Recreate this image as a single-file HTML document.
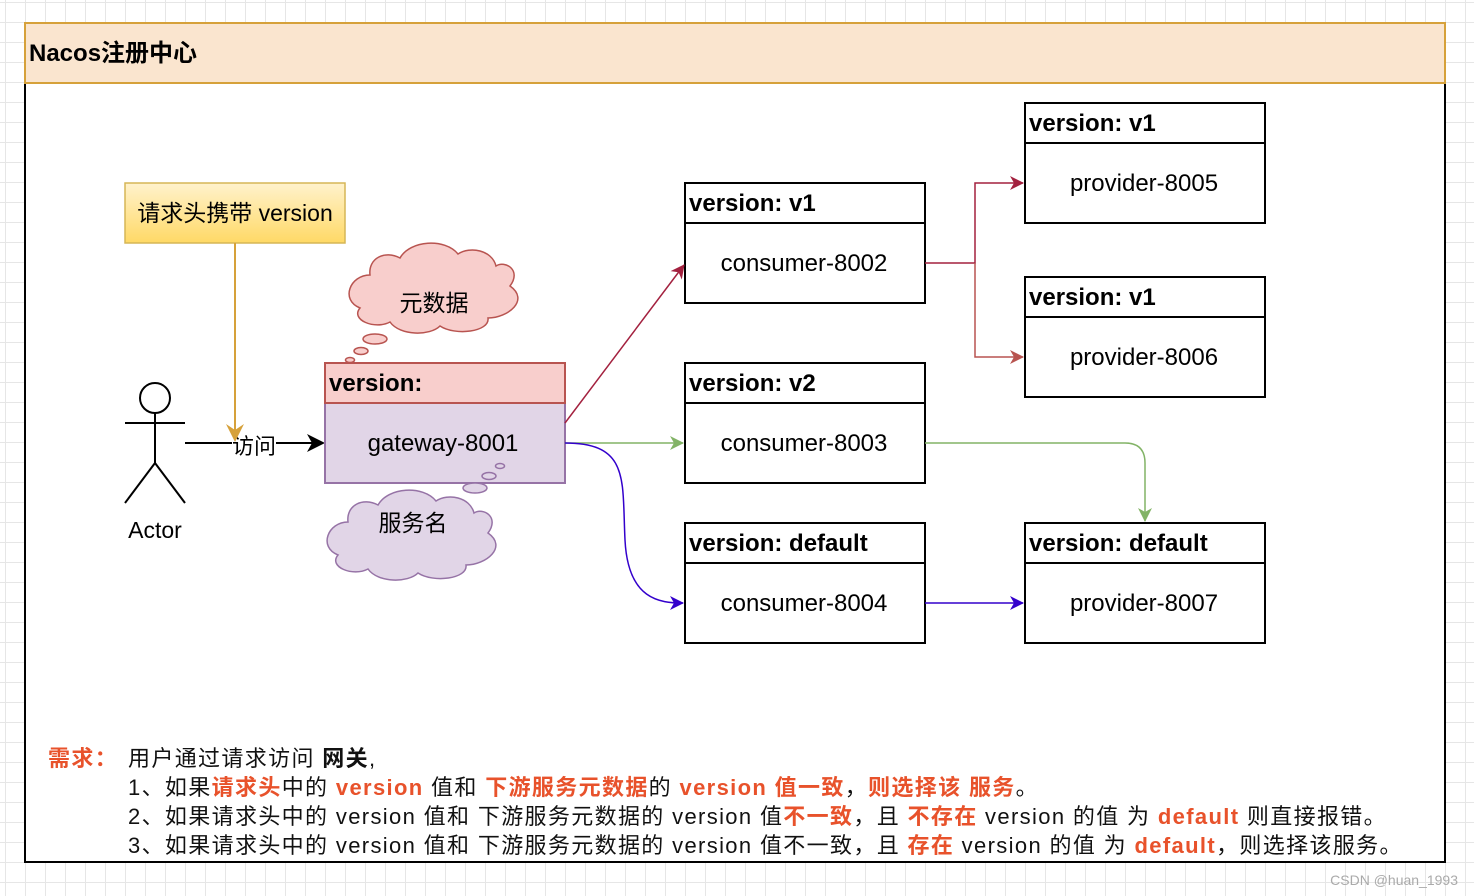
<!DOCTYPE html>
<html><head><meta charset="utf-8"><style>
html,body{margin:0;padding:0;}
body{width:1474px;height:896px;overflow:hidden;background-color:#fff;
background-image:linear-gradient(#e6e6e6 1px,transparent 1px),linear-gradient(90deg,#e6e6e6 1px,transparent 1px);
background-size:20px 20px;background-position:5px 2px;font-family:"Liberation Sans","Noto Sans CJK SC",sans-serif;position:relative;}
svg{position:absolute;left:0;top:0;}
.t{position:absolute;white-space:nowrap;font-size:22px;color:#111;line-height:29px;letter-spacing:1.35px;}
.r{color:#e8522b;font-weight:bold;}
</style></head><body>
<svg width="1474" height="896" viewBox="0 0 1474 896" font-family="Liberation Sans, Noto Sans CJK SC, sans-serif">
<defs>
<marker id="ar" markerWidth="14" markerHeight="14" refX="13" refY="7" orient="auto" markerUnits="userSpaceOnUse"><path d="M0,0 L14,7 L0,14 L4,7z" fill="#a3213f"/></marker>
<marker id="ar2" markerWidth="14" markerHeight="14" refX="13" refY="7" orient="auto" markerUnits="userSpaceOnUse"><path d="M0,0 L14,7 L0,14 L4,7z" fill="#b85450"/></marker>
<marker id="ag" markerWidth="14" markerHeight="14" refX="13" refY="7" orient="auto" markerUnits="userSpaceOnUse"><path d="M0,0 L14,7 L0,14 L4,7z" fill="#82b366"/></marker>
<marker id="ab" markerWidth="14" markerHeight="14" refX="13" refY="7" orient="auto" markerUnits="userSpaceOnUse"><path d="M0,0 L14,7 L0,14 L4,7z" fill="#3300cc"/></marker>
<linearGradient id="gy" x1="0" y1="0" x2="0" y2="1"><stop offset="0" stop-color="#fff2cc"/><stop offset="1" stop-color="#ffd966"/></linearGradient>
</defs>
<rect x="25" y="23" width="1420" height="839" fill="#fff" stroke="#000" stroke-width="2"/>
<rect x="25" y="23" width="1420" height="60" fill="#fae5cf" stroke="#d6a13a" stroke-width="2"/>
<text x="29" y="61" font-size="24" font-weight="bold">Nacos注册中心</text>

<rect x="125" y="183" width="220" height="60" fill="url(#gy)" stroke="#d6b656" stroke-width="1.5"/>
<text x="235" y="221" font-size="23" text-anchor="middle">请求头携带 version</text>
<line x1="235" y1="243" x2="235" y2="436" stroke="#d6a13a" stroke-width="2"/>

<g stroke="#000" stroke-width="2" fill="none">
<circle cx="155" cy="398" r="15" fill="#fff"/>
<line x1="155" y1="413" x2="155" y2="463"/><line x1="125" y1="423" x2="185" y2="423"/>
<line x1="155" y1="463" x2="125" y2="503"/><line x1="155" y1="463" x2="185" y2="503"/>
</g>
<text x="155" y="538" font-size="23" text-anchor="middle">Actor</text>
<line x1="185" y1="443" x2="312" y2="443" stroke="#000" stroke-width="2"/>
<path d="M325,443 L307,434 L312,443 L307,452Z" fill="#000"/>
<rect x="232" y="432" width="44" height="24" fill="#fff"/>
<text x="254" y="454" font-size="22" text-anchor="middle">访问</text>
<path d="M235,442 L226,424 L235,430 L244,424Z" fill="#d6a13a"/>

<rect x="325" y="403" width="240" height="80" fill="#e1d5e7" stroke="#9673a6" stroke-width="2"/>
<rect x="325" y="363" width="240" height="40" fill="#f8cecc" stroke="#b85450" stroke-width="2"/>
<text x="329" y="391" font-size="24" font-weight="bold">version:</text>
<text x="443" y="451" font-size="24" text-anchor="middle">gateway-8001</text>

<g fill="#f8cecc" stroke="#b85450" stroke-width="1.5">
<path d="M370,275 C350,275 340,300 360,308 C350,320 375,330 390,322 C400,336 430,336 440,326 C455,336 490,332 488,318 C508,318 530,300 510,286 C522,270 505,260 496,266 C492,250 470,246 458,254 C445,238 410,240 400,258 C385,250 368,258 370,275Z"/>
<ellipse cx="375" cy="339" rx="12" ry="5"/>
<ellipse cx="361" cy="351" rx="7" ry="3.5"/>
<ellipse cx="350" cy="360" rx="4.5" ry="2.5"/>
</g>
<text x="434" y="311" font-size="23" text-anchor="middle">元数据</text>
<g fill="#e1d5e7" stroke="#9673a6" stroke-width="1.5">
<path d="M348,522 C328,522 318,547 338,555 C328,567 353,577 368,569 C378,583 408,583 418,573 C433,583 468,579 466,565 C486,565 508,547 488,533 C500,517 483,507 474,513 C470,497 448,493 436,501 C423,485 388,487 378,505 C363,497 346,505 348,522Z"/>
<ellipse cx="475" cy="488" rx="12" ry="5"/>
<ellipse cx="489" cy="476" rx="7" ry="3.5"/>
<ellipse cx="500" cy="466" rx="4.5" ry="2.5"/>
</g>
<text x="413" y="531" font-size="23" text-anchor="middle">服务名</text>

<g stroke="#000" stroke-width="2" fill="#fff">
<rect x="685" y="183" width="240" height="120"/><line x1="685" y1="223" x2="925" y2="223"/>
<rect x="685" y="363" width="240" height="120"/><line x1="685" y1="403" x2="925" y2="403"/>
<rect x="685" y="523" width="240" height="120"/><line x1="685" y1="563" x2="925" y2="563"/>
<rect x="1025" y="103" width="240" height="120"/><line x1="1025" y1="143" x2="1265" y2="143"/>
<rect x="1025" y="277" width="240" height="120"/><line x1="1025" y1="317" x2="1265" y2="317"/>
<rect x="1025" y="523" width="240" height="120"/><line x1="1025" y1="563" x2="1265" y2="563"/>
</g>
<g font-size="24" font-weight="bold">
<text x="689" y="211">version: v1</text>
<text x="689" y="391">version: v2</text>
<text x="689" y="551">version: default</text>
<text x="1029" y="131">version: v1</text>
<text x="1029" y="305">version: v1</text>
<text x="1029" y="551">version: default</text>
</g>
<g font-size="24" text-anchor="middle">
<text x="804" y="271">consumer-8002</text>
<text x="804" y="451">consumer-8003</text>
<text x="804" y="611">consumer-8004</text>
<text x="1144" y="191">provider-8005</text>
<text x="1144" y="365">provider-8006</text>
<text x="1144" y="611">provider-8007</text>
</g>

<line x1="565" y1="423" x2="684" y2="265" stroke="#a3213f" stroke-width="1.5" marker-end="url(#ar)"/>
<path d="M925,263 H975 V183 H1023" fill="none" stroke="#a3213f" stroke-width="1.5" marker-end="url(#ar)"/>
<path d="M975,263 V357 H1023" fill="none" stroke="#b85450" stroke-width="1.5" marker-end="url(#ar2)"/>
<line x1="565" y1="443" x2="683" y2="443" stroke="#82b366" stroke-width="1.5" marker-end="url(#ag)"/>
<path d="M925,443 H1125 Q1145,443 1145,463 V521" fill="none" stroke="#82b366" stroke-width="1.5" marker-end="url(#ag)"/>
<path d="M565,443 C630,443 622,480 625,540 C628,600 660,603 683,603" fill="none" stroke="#3300cc" stroke-width="1.5" marker-end="url(#ab)"/>
<line x1="925" y1="603" x2="1023" y2="603" stroke="#3300cc" stroke-width="1.5" marker-end="url(#ab)"/>
<text x="1458" y="885" font-size="14" fill="#aaa" text-anchor="end">CSDN @huan_1993</text>
</svg>
<div class="t" style="left:48px;top:744px;"><span class="r">需求：</span></div>
<div class="t" style="left:128px;top:744px;">用户通过请求访问 <b>网关</b>,</div>
<div class="t" style="left:128px;top:773px;">1、如果<span class="r">请求头</span>中的 <span class="r">version</span> 值和 <span class="r">下游服务元数据</span>的 <span class="r">version 值一致</span>，<span class="r">则选择该 服务</span>。</div>
<div class="t" style="left:128px;top:802px;">2、如果请求头中的 version 值和 下游服务元数据的 version 值<span class="r">不一致</span>，且 <span class="r">不存在</span> version 的值 为 <span class="r">default</span> 则直接报错。</div>
<div class="t" style="left:128px;top:831px;">3、如果请求头中的 version 值和 下游服务元数据的 version 值不一致，且 <span class="r">存在</span> version 的值 为 <span class="r">default</span>，则选择该服务。</div>
</body></html>
